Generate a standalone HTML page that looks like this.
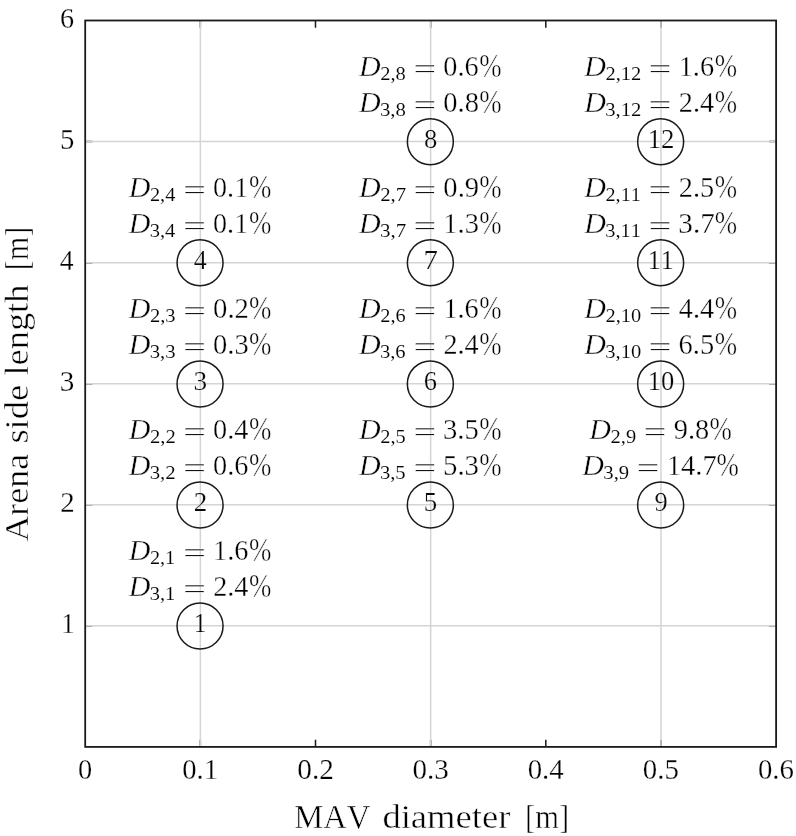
<!DOCTYPE html>
<html><head><meta charset="utf-8"><title>MAV diameter vs arena side length</title>
<style>
html,body{margin:0;padding:0;background:#fff}
svg{display:block}
text{font-family:"Liberation Serif",serif;font-kerning:none;white-space:pre}
.e{stroke:#fff;vector-effect:non-scaling-stroke}
</style></head><body>
<svg width="796" height="836" viewBox="0 0 796 836">
<rect x="0" y="0" width="796" height="836" fill="#fff"/>
<path d="M200.35 746.9 V739.70 M200.35 20.5 V27.70" stroke="#1a1a1a" stroke-width="1.5" fill="none"/>
<path d="M315.50 746.9 V739.70 M315.50 20.5 V27.70" stroke="#1a1a1a" stroke-width="1.5" fill="none"/>
<path d="M430.65 746.9 V739.70 M430.65 20.5 V27.70" stroke="#1a1a1a" stroke-width="1.5" fill="none"/>
<path d="M545.80 746.9 V739.70 M545.80 20.5 V27.70" stroke="#1a1a1a" stroke-width="1.5" fill="none"/>
<path d="M660.95 746.9 V739.70 M660.95 20.5 V27.70" stroke="#1a1a1a" stroke-width="1.5" fill="none"/>
<path d="M85.2 625.83 H92.40 M776.1 625.83 H768.90" stroke="#1a1a1a" stroke-width="1.5" fill="none"/>
<path d="M85.2 504.77 H92.40 M776.1 504.77 H768.90" stroke="#1a1a1a" stroke-width="1.5" fill="none"/>
<path d="M85.2 383.70 H92.40 M776.1 383.70 H768.90" stroke="#1a1a1a" stroke-width="1.5" fill="none"/>
<path d="M85.2 262.63 H92.40 M776.1 262.63 H768.90" stroke="#1a1a1a" stroke-width="1.5" fill="none"/>
<path d="M85.2 141.57 H92.40 M776.1 141.57 H768.90" stroke="#1a1a1a" stroke-width="1.5" fill="none"/>
<line x1="200.35" y1="20.5" x2="200.35" y2="746.9" stroke="#d4d4d4" stroke-width="1.5"/>
<line x1="430.65" y1="20.5" x2="430.65" y2="746.9" stroke="#d4d4d4" stroke-width="1.5"/>
<line x1="660.95" y1="20.5" x2="660.95" y2="746.9" stroke="#d4d4d4" stroke-width="1.5"/>
<line x1="85.2" y1="625.83" x2="776.1" y2="625.83" stroke="#d4d4d4" stroke-width="1.5"/>
<line x1="85.2" y1="504.77" x2="776.1" y2="504.77" stroke="#d4d4d4" stroke-width="1.5"/>
<line x1="85.2" y1="383.70" x2="776.1" y2="383.70" stroke="#d4d4d4" stroke-width="1.5"/>
<line x1="85.2" y1="262.63" x2="776.1" y2="262.63" stroke="#d4d4d4" stroke-width="1.5"/>
<line x1="85.2" y1="141.57" x2="776.1" y2="141.57" stroke="#d4d4d4" stroke-width="1.5"/>
<rect x="85.2" y="20.5" width="690.90" height="726.40" fill="none" stroke="#1a1a1a" stroke-width="1.8"/>
<circle cx="200.05" cy="626.03" r="23" fill="none" stroke="#1a1a1a" stroke-width="1.5"/>
<circle cx="200.05" cy="504.97" r="23" fill="none" stroke="#1a1a1a" stroke-width="1.5"/>
<circle cx="200.05" cy="383.90" r="23" fill="none" stroke="#1a1a1a" stroke-width="1.5"/>
<circle cx="200.05" cy="262.83" r="23" fill="none" stroke="#1a1a1a" stroke-width="1.5"/>
<circle cx="430.35" cy="504.97" r="23" fill="none" stroke="#1a1a1a" stroke-width="1.5"/>
<circle cx="430.35" cy="383.90" r="23" fill="none" stroke="#1a1a1a" stroke-width="1.5"/>
<circle cx="430.35" cy="262.83" r="23" fill="none" stroke="#1a1a1a" stroke-width="1.5"/>
<circle cx="430.35" cy="141.77" r="23" fill="none" stroke="#1a1a1a" stroke-width="1.5"/>
<circle cx="660.65" cy="504.97" r="23" fill="none" stroke="#1a1a1a" stroke-width="1.5"/>
<circle cx="660.65" cy="383.90" r="23" fill="none" stroke="#1a1a1a" stroke-width="1.5"/>
<circle cx="660.65" cy="262.83" r="23" fill="none" stroke="#1a1a1a" stroke-width="1.5"/>
<circle cx="660.65" cy="141.77" r="23" fill="none" stroke="#1a1a1a" stroke-width="1.5"/>
<text fill="#090909" class="e" stroke-width="0.22" transform="translate(193.84 632.13) scale(0.9291 1.0135)" font-size="27.20">1</text>
<text fill="#010101" class="e" stroke-width="0.41" transform="translate(128.69 560.28) scale(1.0573 1.0620)" font-size="28.40" font-style="italic">D</text>
<text fill="#030303" class="e" stroke-width="0.1" transform="translate(149.92 564.03) scale(1.0692 1.0084)" font-size="18.93">2,1</text>
<text fill="#131313" class="e" stroke-width="0.5" transform="translate(182.88 562.12) scale(1.4411 0.9624)" font-size="28.40">=</text>
<text fill="#000000" class="e" stroke-width="0.32" transform="translate(213.08 560.13) scale(0.9964 1.0129)" font-size="28.40">1.6</text>
<text fill="#020202" class="e" stroke-width="0.44" transform="translate(249.01 561.49) scale(0.9449 1.2112)" font-size="28.40">%</text>
<text fill="#010101" class="e" stroke-width="0.41" transform="translate(128.69 596.18) scale(1.0573 1.0620)" font-size="28.40" font-style="italic">D</text>
<text fill="#030303" class="e" stroke-width="0.1" transform="translate(149.66 599.93) scale(1.0807 1.0084)" font-size="18.93">3,1</text>
<text fill="#131313" class="e" stroke-width="0.5" transform="translate(182.88 598.02) scale(1.4411 0.9624)" font-size="28.40">=</text>
<text fill="#000000" class="e" stroke-width="0.32" transform="translate(213.13 596.03) scale(0.9948 1.0280)" font-size="28.40">2.4</text>
<text fill="#020202" class="e" stroke-width="0.44" transform="translate(249.01 597.39) scale(0.9449 1.2112)" font-size="28.40">%</text>
<text fill="#090909" class="e" stroke-width="0.22" transform="translate(193.73 511.07) scale(0.9955 1.0105)" font-size="27.20">2</text>
<text fill="#010101" class="e" stroke-width="0.41" transform="translate(128.69 439.21) scale(1.0573 1.0620)" font-size="28.40" font-style="italic">D</text>
<text fill="#030303" class="e" stroke-width="0.1" transform="translate(149.90 442.97) scale(1.0907 1.0084)" font-size="18.93">2,2</text>
<text fill="#131313" class="e" stroke-width="0.5" transform="translate(182.88 441.06) scale(1.4411 0.9624)" font-size="28.40">=</text>
<text fill="#000000" class="e" stroke-width="0.32" transform="translate(213.07 439.07) scale(0.9966 1.0234)" font-size="28.40">0.4</text>
<text fill="#020202" class="e" stroke-width="0.44" transform="translate(249.01 440.42) scale(0.9449 1.2112)" font-size="28.40">%</text>
<text fill="#010101" class="e" stroke-width="0.41" transform="translate(128.69 475.11) scale(1.0573 1.0620)" font-size="28.40" font-style="italic">D</text>
<text fill="#030303" class="e" stroke-width="0.1" transform="translate(149.64 478.87) scale(1.1023 1.0084)" font-size="18.93">3,2</text>
<text fill="#131313" class="e" stroke-width="0.5" transform="translate(182.88 476.96) scale(1.4411 0.9624)" font-size="28.40">=</text>
<text fill="#000000" class="e" stroke-width="0.32" transform="translate(213.07 474.97) scale(0.9967 1.0084)" font-size="28.40">0.6</text>
<text fill="#020202" class="e" stroke-width="0.44" transform="translate(249.01 476.32) scale(0.9449 1.2112)" font-size="28.40">%</text>
<text fill="#090909" class="e" stroke-width="0.22" transform="translate(193.40 390.00) scale(1.0048 1.0105)" font-size="27.20">3</text>
<text fill="#010101" class="e" stroke-width="0.41" transform="translate(128.69 318.15) scale(1.0573 1.0620)" font-size="28.40" font-style="italic">D</text>
<text fill="#030303" class="e" stroke-width="0.1" transform="translate(149.91 321.90) scale(1.0834 1.0084)" font-size="18.93">2,3</text>
<text fill="#131313" class="e" stroke-width="0.5" transform="translate(182.88 319.99) scale(1.4411 0.9624)" font-size="28.40">=</text>
<text fill="#000000" class="e" stroke-width="0.32" transform="translate(213.05 318.00) scale(1.0117 1.0084)" font-size="28.40">0.2</text>
<text fill="#020202" class="e" stroke-width="0.44" transform="translate(249.01 319.36) scale(0.9449 1.2112)" font-size="28.40">%</text>
<text fill="#010101" class="e" stroke-width="0.41" transform="translate(128.69 354.05) scale(1.0573 1.0620)" font-size="28.40" font-style="italic">D</text>
<text fill="#030303" class="e" stroke-width="0.1" transform="translate(149.65 357.80) scale(1.0947 1.0084)" font-size="18.93">3,3</text>
<text fill="#131313" class="e" stroke-width="0.5" transform="translate(182.88 355.89) scale(1.4411 0.9624)" font-size="28.40">=</text>
<text fill="#000000" class="e" stroke-width="0.32" transform="translate(213.06 353.90) scale(1.0046 1.0084)" font-size="28.40">0.3</text>
<text fill="#020202" class="e" stroke-width="0.44" transform="translate(249.01 355.26) scale(0.9449 1.2112)" font-size="28.40">%</text>
<text fill="#090909" class="e" stroke-width="0.22" transform="translate(193.82 268.93) scale(0.9532 1.0317)" font-size="27.20">4</text>
<text fill="#010101" class="e" stroke-width="0.41" transform="translate(128.69 197.08) scale(1.0573 1.0620)" font-size="28.40" font-style="italic">D</text>
<text fill="#030303" class="e" stroke-width="0.1" transform="translate(149.92 200.83) scale(1.0738 1.0235)" font-size="18.93">2,4</text>
<text fill="#131313" class="e" stroke-width="0.5" transform="translate(182.88 198.92) scale(1.4411 0.9624)" font-size="28.40">=</text>
<text fill="#000000" class="e" stroke-width="0.32" transform="translate(213.07 196.93) scale(0.9899 1.0084)" font-size="28.40">0.1</text>
<text fill="#020202" class="e" stroke-width="0.44" transform="translate(249.01 198.29) scale(0.9449 1.2112)" font-size="28.40">%</text>
<text fill="#010101" class="e" stroke-width="0.41" transform="translate(128.69 232.98) scale(1.0573 1.0620)" font-size="28.40" font-style="italic">D</text>
<text fill="#030303" class="e" stroke-width="0.1" transform="translate(149.66 236.73) scale(1.0849 1.0235)" font-size="18.93">3,4</text>
<text fill="#131313" class="e" stroke-width="0.5" transform="translate(182.88 234.82) scale(1.4411 0.9624)" font-size="28.40">=</text>
<text fill="#000000" class="e" stroke-width="0.32" transform="translate(213.07 232.83) scale(0.9899 1.0084)" font-size="28.40">0.1</text>
<text fill="#020202" class="e" stroke-width="0.44" transform="translate(249.01 234.19) scale(0.9449 1.2112)" font-size="28.40">%</text>
<text fill="#090909" class="e" stroke-width="0.22" transform="translate(423.66 511.07) scale(0.9907 1.0202)" font-size="27.20">5</text>
<text fill="#010101" class="e" stroke-width="0.41" transform="translate(358.99 439.21) scale(1.0573 1.0620)" font-size="28.40" font-style="italic">D</text>
<text fill="#030303" class="e" stroke-width="0.1" transform="translate(380.21 442.97) scale(1.0757 1.0084)" font-size="18.93">2,5</text>
<text fill="#131313" class="e" stroke-width="0.5" transform="translate(413.18 441.06) scale(1.4411 0.9624)" font-size="28.40">=</text>
<text fill="#000000" class="e" stroke-width="0.32" transform="translate(443.08 439.07) scale(1.0062 1.0129)" font-size="28.40">3.5</text>
<text fill="#020202" class="e" stroke-width="0.44" transform="translate(479.31 440.42) scale(0.9449 1.2112)" font-size="28.40">%</text>
<text fill="#010101" class="e" stroke-width="0.41" transform="translate(358.99 475.11) scale(1.0573 1.0620)" font-size="28.40" font-style="italic">D</text>
<text fill="#030303" class="e" stroke-width="0.1" transform="translate(379.95 478.87) scale(1.0870 1.0084)" font-size="18.93">3,5</text>
<text fill="#131313" class="e" stroke-width="0.5" transform="translate(413.18 476.96) scale(1.4411 0.9624)" font-size="28.40">=</text>
<text fill="#000000" class="e" stroke-width="0.32" transform="translate(443.00 474.97) scale(1.0151 1.0129)" font-size="28.40">5.3</text>
<text fill="#020202" class="e" stroke-width="0.44" transform="translate(479.31 476.32) scale(0.9449 1.2112)" font-size="28.40">%</text>
<text fill="#090909" class="e" stroke-width="0.22" transform="translate(423.87 390.00) scale(0.9715 1.0105)" font-size="27.20">6</text>
<text fill="#010101" class="e" stroke-width="0.41" transform="translate(358.99 318.15) scale(1.0573 1.0620)" font-size="28.40" font-style="italic">D</text>
<text fill="#030303" class="e" stroke-width="0.1" transform="translate(380.22 321.90) scale(1.0748 1.0084)" font-size="18.93">2,6</text>
<text fill="#131313" class="e" stroke-width="0.5" transform="translate(413.18 319.99) scale(1.4411 0.9624)" font-size="28.40">=</text>
<text fill="#000000" class="e" stroke-width="0.32" transform="translate(443.38 318.00) scale(0.9964 1.0129)" font-size="28.40">1.6</text>
<text fill="#020202" class="e" stroke-width="0.44" transform="translate(479.31 319.36) scale(0.9449 1.2112)" font-size="28.40">%</text>
<text fill="#010101" class="e" stroke-width="0.41" transform="translate(358.99 354.05) scale(1.0573 1.0620)" font-size="28.40" font-style="italic">D</text>
<text fill="#030303" class="e" stroke-width="0.1" transform="translate(379.96 357.80) scale(1.0861 1.0084)" font-size="18.93">3,6</text>
<text fill="#131313" class="e" stroke-width="0.5" transform="translate(413.18 355.89) scale(1.4411 0.9624)" font-size="28.40">=</text>
<text fill="#000000" class="e" stroke-width="0.32" transform="translate(443.43 353.90) scale(0.9948 1.0280)" font-size="28.40">2.4</text>
<text fill="#020202" class="e" stroke-width="0.44" transform="translate(479.31 355.26) scale(0.9449 1.2112)" font-size="28.40">%</text>
<text fill="#090909" class="e" stroke-width="0.22" transform="translate(423.46 268.93) scale(1.0588 1.0386)" font-size="27.20">7</text>
<text fill="#010101" class="e" stroke-width="0.41" transform="translate(358.99 197.08) scale(1.0573 1.0620)" font-size="28.40" font-style="italic">D</text>
<text fill="#030303" class="e" stroke-width="0.1" transform="translate(380.20 200.83) scale(1.0986 1.0250)" font-size="18.93">2,7</text>
<text fill="#131313" class="e" stroke-width="0.5" transform="translate(413.18 198.92) scale(1.4411 0.9624)" font-size="28.40">=</text>
<text fill="#000000" class="e" stroke-width="0.32" transform="translate(443.36 196.93) scale(1.0063 1.0084)" font-size="28.40">0.9</text>
<text fill="#020202" class="e" stroke-width="0.44" transform="translate(479.31 198.29) scale(0.9449 1.2112)" font-size="28.40">%</text>
<text fill="#010101" class="e" stroke-width="0.41" transform="translate(358.99 232.98) scale(1.0573 1.0620)" font-size="28.40" font-style="italic">D</text>
<text fill="#030303" class="e" stroke-width="0.1" transform="translate(379.93 236.73) scale(1.1099 1.0250)" font-size="18.93">3,7</text>
<text fill="#131313" class="e" stroke-width="0.5" transform="translate(413.18 234.82) scale(1.4411 0.9624)" font-size="28.40">=</text>
<text fill="#000000" class="e" stroke-width="0.32" transform="translate(443.36 232.83) scale(1.0046 1.0129)" font-size="28.40">1.3</text>
<text fill="#020202" class="e" stroke-width="0.44" transform="translate(479.31 234.19) scale(0.9449 1.2112)" font-size="28.40">%</text>
<text fill="#090909" class="e" stroke-width="0.22" transform="translate(423.99 147.87) scale(0.9794 1.0060)" font-size="27.20">8</text>
<text fill="#010101" class="e" stroke-width="0.41" transform="translate(358.99 76.01) scale(1.0573 1.0620)" font-size="28.40" font-style="italic">D</text>
<text fill="#030303" class="e" stroke-width="0.1" transform="translate(380.21 79.77) scale(1.0825 1.0039)" font-size="18.93">2,8</text>
<text fill="#131313" class="e" stroke-width="0.5" transform="translate(413.18 77.86) scale(1.4411 0.9624)" font-size="28.40">=</text>
<text fill="#000000" class="e" stroke-width="0.32" transform="translate(443.37 75.87) scale(0.9967 1.0084)" font-size="28.40">0.6</text>
<text fill="#020202" class="e" stroke-width="0.44" transform="translate(479.31 77.22) scale(0.9449 1.2112)" font-size="28.40">%</text>
<text fill="#010101" class="e" stroke-width="0.41" transform="translate(358.99 111.91) scale(1.0573 1.0620)" font-size="28.40" font-style="italic">D</text>
<text fill="#030303" class="e" stroke-width="0.1" transform="translate(379.95 115.67) scale(1.0938 1.0039)" font-size="18.93">3,8</text>
<text fill="#131313" class="e" stroke-width="0.5" transform="translate(413.18 113.76) scale(1.4411 0.9624)" font-size="28.40">=</text>
<text fill="#000000" class="e" stroke-width="0.32" transform="translate(443.36 111.77) scale(1.0038 1.0084)" font-size="28.40">0.8</text>
<text fill="#020202" class="e" stroke-width="0.44" transform="translate(479.31 113.12) scale(0.9449 1.2112)" font-size="28.40">%</text>
<text fill="#090909" class="e" stroke-width="0.22" transform="translate(654.45 511.07) scale(0.9727 1.0105)" font-size="27.20">9</text>
<text fill="#010101" class="e" stroke-width="0.41" transform="translate(589.29 439.21) scale(1.0573 1.0620)" font-size="28.40" font-style="italic">D</text>
<text fill="#030303" class="e" stroke-width="0.1" transform="translate(610.51 442.97) scale(1.0852 1.0084)" font-size="18.93">2,9</text>
<text fill="#131313" class="e" stroke-width="0.5" transform="translate(643.48 441.06) scale(1.4411 0.9624)" font-size="28.40">=</text>
<text fill="#000000" class="e" stroke-width="0.32" transform="translate(673.83 439.07) scale(0.9988 1.0084)" font-size="28.40">9.8</text>
<text fill="#020202" class="e" stroke-width="0.44" transform="translate(709.61 440.42) scale(0.9449 1.2112)" font-size="28.40">%</text>
<text fill="#010101" class="e" stroke-width="0.41" transform="translate(582.34 475.11) scale(1.0573 1.0620)" font-size="28.40" font-style="italic">D</text>
<text fill="#030303" class="e" stroke-width="0.1" transform="translate(603.30 478.87) scale(1.0966 1.0084)" font-size="18.93">3,9</text>
<text fill="#131313" class="e" stroke-width="0.5" transform="translate(636.54 476.96) scale(1.4411 0.9624)" font-size="28.40">=</text>
<text fill="#000000" class="e" stroke-width="0.32" transform="translate(666.71 474.97) scale(1.0067 1.0325)" font-size="28.40">14.7</text>
<text fill="#020202" class="e" stroke-width="0.44" transform="translate(716.55 476.32) scale(0.9449 1.2112)" font-size="28.40">%</text>
<text fill="#090909" class="e" stroke-width="0.22" transform="translate(647.68 390.00) scale(0.9772 1.0060)" font-size="27.20">10</text>
<text fill="#010101" class="e" stroke-width="0.41" transform="translate(584.26 318.15) scale(1.0573 1.0620)" font-size="28.40" font-style="italic">D</text>
<text fill="#030303" class="e" stroke-width="0.1" transform="translate(605.49 321.90) scale(1.0781 1.0039)" font-size="18.93">2,10</text>
<text fill="#131313" class="e" stroke-width="0.5" transform="translate(648.51 319.99) scale(1.4411 0.9624)" font-size="28.40">=</text>
<text fill="#000000" class="e" stroke-width="0.32" transform="translate(678.82 318.00) scale(0.9929 1.0341)" font-size="28.40">4.4</text>
<text fill="#020202" class="e" stroke-width="0.44" transform="translate(714.63 319.36) scale(0.9449 1.2112)" font-size="28.40">%</text>
<text fill="#010101" class="e" stroke-width="0.41" transform="translate(584.26 354.05) scale(1.0573 1.0620)" font-size="28.40" font-style="italic">D</text>
<text fill="#030303" class="e" stroke-width="0.1" transform="translate(605.23 357.80) scale(1.0861 1.0039)" font-size="18.93">3,10</text>
<text fill="#131313" class="e" stroke-width="0.5" transform="translate(648.51 355.89) scale(1.4411 0.9624)" font-size="28.40">=</text>
<text fill="#000000" class="e" stroke-width="0.32" transform="translate(678.55 353.90) scale(1.0020 1.0129)" font-size="28.40">6.5</text>
<text fill="#020202" class="e" stroke-width="0.44" transform="translate(714.63 355.26) scale(0.9449 1.2112)" font-size="28.40">%</text>
<text fill="#090909" class="e" stroke-width="0.22" transform="translate(647.72 268.93) scale(0.9578 1.0135)" font-size="27.20">11</text>
<text fill="#010101" class="e" stroke-width="0.41" transform="translate(584.26 197.08) scale(1.0573 1.0620)" font-size="28.40" font-style="italic">D</text>
<text fill="#030303" class="e" stroke-width="0.1" transform="translate(605.50 200.83) scale(1.0670 1.0084)" font-size="18.93">2,11</text>
<text fill="#131313" class="e" stroke-width="0.5" transform="translate(648.51 198.92) scale(1.4411 0.9624)" font-size="28.40">=</text>
<text fill="#000000" class="e" stroke-width="0.32" transform="translate(678.75 196.93) scale(0.9960 1.0129)" font-size="28.40">2.5</text>
<text fill="#020202" class="e" stroke-width="0.44" transform="translate(714.63 198.29) scale(0.9449 1.2112)" font-size="28.40">%</text>
<text fill="#010101" class="e" stroke-width="0.41" transform="translate(584.26 232.98) scale(1.0573 1.0620)" font-size="28.40" font-style="italic">D</text>
<text fill="#030303" class="e" stroke-width="0.1" transform="translate(605.24 236.73) scale(1.0750 1.0084)" font-size="18.93">3,11</text>
<text fill="#131313" class="e" stroke-width="0.5" transform="translate(648.51 234.82) scale(1.4411 0.9624)" font-size="28.40">=</text>
<text fill="#000000" class="e" stroke-width="0.32" transform="translate(678.37 232.83) scale(1.0272 1.0295)" font-size="28.40">3.7</text>
<text fill="#020202" class="e" stroke-width="0.44" transform="translate(714.63 234.19) scale(0.9449 1.2112)" font-size="28.40">%</text>
<text fill="#090909" class="e" stroke-width="0.22" transform="translate(647.65 147.87) scale(0.9873 1.0105)" font-size="27.20">12</text>
<text fill="#010101" class="e" stroke-width="0.41" transform="translate(584.26 76.01) scale(1.0573 1.0620)" font-size="28.40" font-style="italic">D</text>
<text fill="#030303" class="e" stroke-width="0.1" transform="translate(605.48 79.77) scale(1.0820 1.0084)" font-size="18.93">2,12</text>
<text fill="#131313" class="e" stroke-width="0.5" transform="translate(648.51 77.86) scale(1.4411 0.9624)" font-size="28.40">=</text>
<text fill="#000000" class="e" stroke-width="0.32" transform="translate(678.70 75.87) scale(0.9964 1.0129)" font-size="28.40">1.6</text>
<text fill="#020202" class="e" stroke-width="0.44" transform="translate(714.63 77.22) scale(0.9449 1.2112)" font-size="28.40">%</text>
<text fill="#010101" class="e" stroke-width="0.41" transform="translate(584.26 111.91) scale(1.0573 1.0620)" font-size="28.40" font-style="italic">D</text>
<text fill="#030303" class="e" stroke-width="0.1" transform="translate(605.23 115.67) scale(1.0900 1.0084)" font-size="18.93">3,12</text>
<text fill="#131313" class="e" stroke-width="0.5" transform="translate(648.51 113.76) scale(1.4411 0.9624)" font-size="28.40">=</text>
<text fill="#000000" class="e" stroke-width="0.32" transform="translate(678.76 111.77) scale(0.9948 1.0280)" font-size="28.40">2.4</text>
<text fill="#020202" class="e" stroke-width="0.44" transform="translate(714.63 113.12) scale(0.9449 1.2112)" font-size="28.40">%</text>
<text fill="#000000" class="e" stroke-width="0.25" transform="translate(78.09 779.40) scale(0.9806 1.0064)" font-size="29.00">0</text>
<text fill="#000000" class="e" stroke-width="0.25" transform="translate(182.21 779.40) scale(0.9876 1.0064)" font-size="29.00">0.1</text>
<text fill="#000000" class="e" stroke-width="0.25" transform="translate(297.34 779.40) scale(1.0094 1.0064)" font-size="29.00">0.2</text>
<text fill="#000000" class="e" stroke-width="0.25" transform="translate(412.50 779.40) scale(1.0024 1.0064)" font-size="29.00">0.3</text>
<text fill="#000000" class="e" stroke-width="0.25" transform="translate(527.66 779.40) scale(0.9944 1.0215)" font-size="29.00">0.4</text>
<text fill="#000000" class="e" stroke-width="0.25" transform="translate(642.80 779.40) scale(0.9955 1.0064)" font-size="29.00">0.5</text>
<text fill="#000000" class="e" stroke-width="0.25" transform="translate(757.96 779.40) scale(0.9945 1.0064)" font-size="29.00">0.6</text>
<text fill="#000000" class="e" stroke-width="0.25" transform="translate(61.35 632.83) scale(0.9306 1.0139)" font-size="29.00">1</text>
<text fill="#000000" class="e" stroke-width="0.25" transform="translate(60.37 511.77) scale(0.9969 1.0109)" font-size="29.00">2</text>
<text fill="#000000" class="e" stroke-width="0.25" transform="translate(59.78 390.70) scale(1.0061 1.0109)" font-size="29.00">3</text>
<text fill="#000000" class="e" stroke-width="0.25" transform="translate(59.82 269.63) scale(0.9543 1.0321)" font-size="29.00">4</text>
<text fill="#000000" class="e" stroke-width="0.25" transform="translate(59.96 148.57) scale(0.9920 1.0207)" font-size="29.00">5</text>
<text fill="#000000" class="e" stroke-width="0.25" transform="translate(59.96 27.50) scale(0.9728 1.0109)" font-size="29.00">6</text>
<text fill="#000000" class="e" stroke-width="0.49" transform="translate(294.16 827.60) scale(0.9562 0.97)" font-size="34.20">MAV</text>
<text fill="#000000" class="e" stroke-width="0.49" transform="translate(382.38 827.60) scale(1.0712 0.97)" font-size="34.20">diameter</text>
<text fill="#000000" class="e" stroke-width="0.49" transform="translate(525.03 827.60) scale(0.8938 0.97)" font-size="34.20">[m]</text>
<g transform="translate(27.6 541.2) rotate(-90)"><text fill="#000000" class="e" stroke-width="0.49" transform="translate(-0.35 0.00) scale(1.0490 0.97)" font-size="34.20">Arena</text><text fill="#000000" class="e" stroke-width="0.49" transform="translate(97.60 0.00) scale(1.0666 0.97)" font-size="34.20">side</text><text fill="#000000" class="e" stroke-width="0.49" transform="translate(165.67 0.00) scale(1.0635 0.97)" font-size="34.20">length</text><text fill="#000000" class="e" stroke-width="0.49" transform="translate(270.85 0.00) scale(0.8871 0.97)" font-size="34.20">[m]</text></g>
</svg>
</body></html>
